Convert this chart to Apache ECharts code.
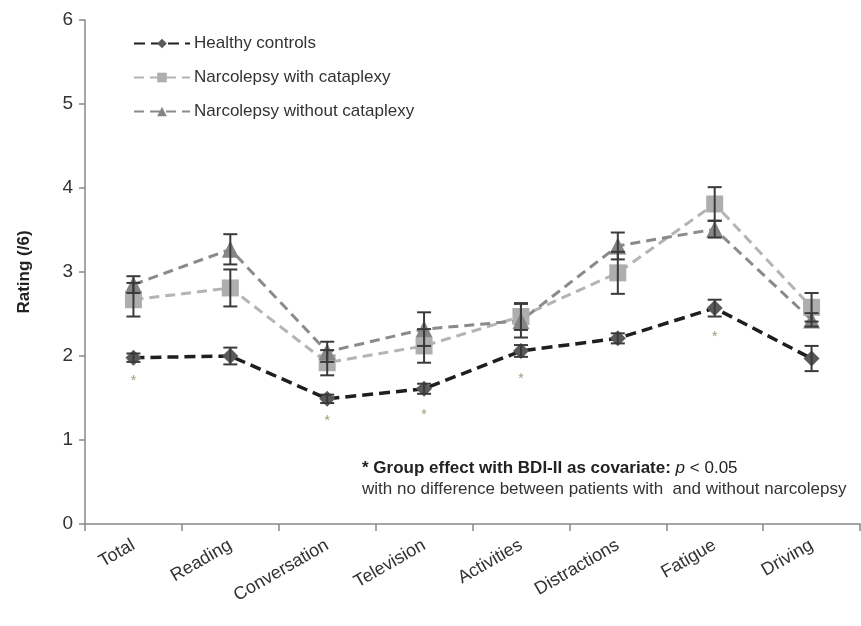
<!DOCTYPE html>
<html>
<head>
<meta charset="utf-8">
<script src="https://cdn.jsdelivr.net/npm/echarts@6/dist/echarts.min.js"></script>
<style>
  html, body { margin: 0; padding: 0; background: #fff; }
  #chart { width: 861px; height: 626px; }
</style>
</head>
<body>
<div id="chart"></div>
<script>
// Questionnaire domains on the x axis
const categories = ['Total', 'Reading', 'Conversation', 'Television', 'Activities', 'Distractions', 'Fatigue', 'Driving'];

// Mean ratings per group
const healthy      = [1.98, 2.00, 1.49, 1.61, 2.06, 2.21, 2.57, 1.97];
const withCatap    = [2.67, 2.81, 1.92, 2.12, 2.47, 2.99, 3.81, 2.58];
const withoutCatap = [2.85, 3.27, 2.05, 2.32, 2.42, 3.31, 3.51, 2.43];

// Standard errors per group
const healthyErr      = [0.05, 0.10, 0.05, 0.06, 0.07, 0.06, 0.10, 0.15];
const withCatapErr    = [0.20, 0.22, 0.15, 0.20, 0.16, 0.25, 0.20, 0.17];
const withoutCatapErr = [0.10, 0.18, 0.12, 0.20, 0.20, 0.16, 0.10, 0.08];

// Significance marks (* below the healthy point) and where they sit
const starCategories = ['Total', 'Conversation', 'Television', 'Activities', 'Fatigue'];
const starValues     = [1.70, 1.23, 1.30, 1.72, 2.23];

const yTicks = [0, 1, 2, 3, 4, 5, 6];

const FONT = '"Liberation Sans", Arial, sans-serif';

function errorData(means, errs) {
  return means.map((m, i) => [i, m - errs[i], m + errs[i]]);
}

function errorSeries(name, means, errs, z) {
  return {
    type: 'custom',
    name: name + ' SE',
    z: z,
    silent: true,
    data: errorData(means, errs),
    renderItem: function (params, api) {
      const x = api.value(0);
      const lo = api.coord([x, api.value(1)]);
      const hi = api.coord([x, api.value(2)]);
      const cap = 7;
      const style = { stroke: '#3a3a3a', lineWidth: 2 };
      return {
        type: 'group',
        children: [
          { type: 'line', shape: { x1: lo[0], y1: lo[1], x2: hi[0], y2: hi[1] }, style: style },
          { type: 'line', shape: { x1: lo[0] - cap, y1: lo[1], x2: lo[0] + cap, y2: lo[1] }, style: style },
          { type: 'line', shape: { x1: hi[0] - cap, y1: hi[1], x2: hi[0] + cap, y2: hi[1] }, style: style }
        ]
      };
    }
  };
}

const chart = echarts.init(document.getElementById('chart'));

chart.setOption({
  animation: false,
  backgroundColor: '#fff',
  grid: { left: 85, right: 1, top: 20, bottom: 102, containLabel: false },
  legend: {
    data: ['Healthy controls', 'Narcolepsy with cataplexy', 'Narcolepsy without cataplexy'],
    orient: 'vertical',
    left: 128,
    top: 30,
    itemGap: 17,
    itemWidth: 56,
    itemHeight: 12,
    textStyle: { fontFamily: FONT, fontSize: 17, color: '#333', padding: [0, 0, 0, -1] }
  },
  xAxis: {
    type: 'category',
    data: categories,
    boundaryGap: true,
    axisLine: { lineStyle: { color: '#888', width: 1.5 } },
    axisTick: { show: true, length: 7, lineStyle: { color: '#888', width: 1.5 } },
    axisLabel: {
      rotate: 30,
      margin: 20,
      fontFamily: FONT,
      fontSize: 18,
      color: '#333'
    }
  },
  yAxis: {
    type: 'value',
    min: 0,
    max: 6,
    interval: 1,
    name: 'Rating (/6)',
    nameLocation: 'middle',
    nameGap: 52,
    nameTextStyle: { fontFamily: FONT, fontSize: 17, fontWeight: 'bold', color: '#222' },
    splitLine: { show: false },
    axisLine: { show: true, lineStyle: { color: '#888', width: 1.5 } },
    axisTick: { show: true, length: 6, lineStyle: { color: '#888', width: 1.5 } },
    axisLabel: {
      margin: 12,
      fontFamily: FONT,
      fontSize: 19,
      color: '#333',
      formatter: v => (yTicks.indexOf(v) >= 0 ? String(v) : '')
    }
  },
  series: [
    errorSeries('Healthy controls', healthy, healthyErr, 4),
    errorSeries('Narcolepsy with cataplexy', withCatap, withCatapErr, 4),
    errorSeries('Narcolepsy without cataplexy', withoutCatap, withoutCatapErr, 4),
    {
      name: 'Narcolepsy with cataplexy',
      type: 'line',
      data: withCatap,
      z: 3,
      symbol: 'rect',
      symbolSize: 17,
      itemStyle: { color: '#aeaeae' },
      lineStyle: { color: '#b4b4b4', width: 3, type: [10, 6] }
    },
    {
      name: 'Narcolepsy without cataplexy',
      type: 'line',
      data: withoutCatap,
      z: 3,
      symbol: 'triangle',
      symbolSize: 17,
      itemStyle: { color: '#858585' },
      lineStyle: { color: '#8a8a8a', width: 3, type: [10, 6] }
    },
    {
      name: 'Healthy controls',
      type: 'line',
      data: healthy,
      z: 3,
      symbol: 'diamond',
      symbolSize: 16,
      itemStyle: { color: '#5a5a5a' },
      lineStyle: { color: '#1e1e1e', width: 3.5, type: [11, 6] }
    },
    {
      name: 'significance',
      type: 'scatter',
      data: starCategories.map((c, i) => [c, starValues[i]]),
      symbolSize: 0,
      silent: true,
      label: {
        show: true,
        position: 'inside',
        formatter: '*',
        fontFamily: FONT,
        fontSize: 14,
        color: '#8a7d55'
      }
    }
  ],
  graphic: [
    {
      type: 'text',
      left: 362,
      top: 460,
      style: {
        text: '{b|* Group effect with BDI-II as covariate: }{i|p}{n| < 0.05}',
        rich: {
          b: { fontFamily: FONT, fontSize: 17, fontWeight: 'bold', fill: '#222' },
          i: { fontFamily: FONT, fontSize: 17, fontStyle: 'italic', fill: '#222' },
          n: { fontFamily: FONT, fontSize: 17, fill: '#222' }
        }
      }
    },
    {
      type: 'text',
      left: 362,
      top: 481,
      style: {
        text: 'with no difference between patients with  and without narcolepsy',
        fontFamily: FONT,
        fontSize: 17,
        fill: '#333'
      }
    }
  ]
});
</script>
</body>
</html>
